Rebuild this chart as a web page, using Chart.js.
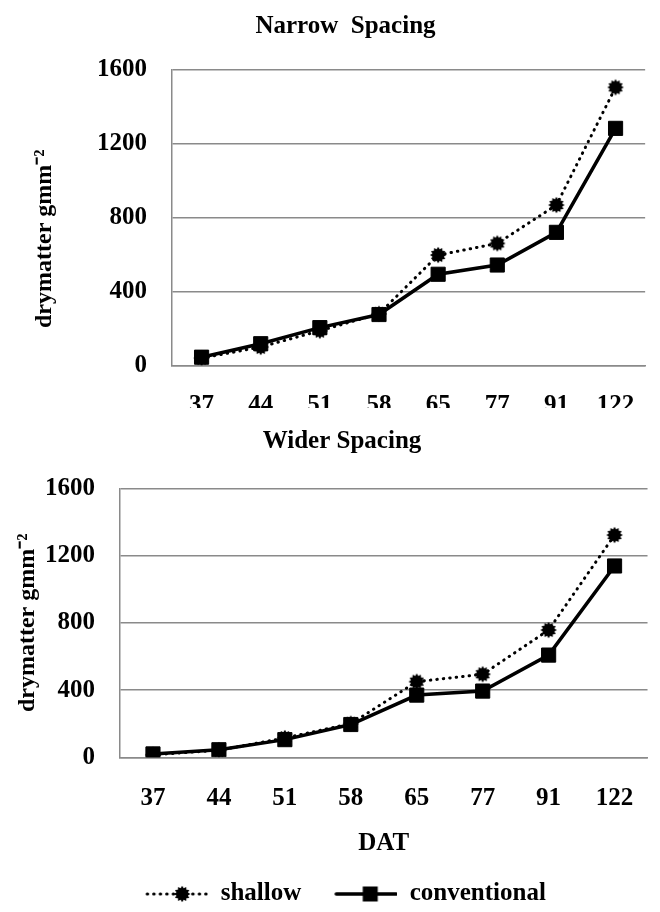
<!DOCTYPE html>
<html>
<head>
<meta charset="utf-8">
<script src="https://cdn.jsdelivr.net/npm/chart.js"></script>
<style>
  body { margin: 0; background: #fff; }
  #topWrap { width: 660px; height: 408px; overflow: hidden; }
  canvas { display: block; }
</style>
</head>
<body>
<div id="topWrap"><canvas id="narrow" width="660" height="430"></canvas></div>
<canvas id="wider" width="660" height="504"></canvas>
<script>
// days after transplanting
var dat = ['37', '44', '51', '58', '65', '77', '91', '122'];

// drymatter (g m-2), narrow spacing
var narrowShallow = [40, 100, 188, 280, 598, 661, 869, 1506];
var narrowConventional = [45, 118, 205, 276, 494, 544, 721, 1284];

// drymatter (g m-2), wider spacing
var widerShallow = [15, 42, 115, 200, 450, 494, 757, 1322];
var widerConventional = [20, 45, 105, 195, 370, 394, 608, 1138];

var yTicks = [0, 400, 800, 1200, 1600];

var FONT = "'Liberation Serif', 'Times New Roman', serif";
var GRID = '#8a8a8a';
var Y_TITLE = 'drymatter gmm\u207B\u00B2';

// bumpy black "star" marker like the spreadsheet one
function makeBlob() {
    var c = document.createElement('canvas');
    c.width = 18; c.height = 18;
    var g = c.getContext('2d');
    g.beginPath();
    for (var i = 0; i < 24; i++) {
        var a = i * Math.PI / 12;
        var r = (i % 2) ? 6 : 8.2;
        var x = 9 + r * Math.cos(a), y = 9 + r * Math.sin(a);
        if (i === 0) g.moveTo(x, y); else g.lineTo(x, y);
    }
    g.closePath();
    g.fillStyle = '#000';
    g.fill();
    return c;
}
var blob = makeBlob();

// legend icons: line + marker, drawn in the right 62px of a 70px box
function legendIcon(dotted) {
    var c = document.createElement('canvas');
    c.width = 70; c.height = 20;
    var g = c.getContext('2d');
    g.strokeStyle = '#000';
    g.lineCap = 'round';
    if (dotted) {
        g.lineWidth = 3;
        g.setLineDash([0.5, 6]);
    } else {
        g.lineWidth = 3.5;
    }
    g.beginPath();
    g.moveTo(9, 10);
    g.lineTo(69, 10);
    g.stroke();
    g.fillStyle = '#000';
    if (dotted) {
        g.drawImage(blob, 44 - 9, 1);
    } else {
        g.fillRect(43 - 7.5, 2.5, 15, 15);
    }
    return c;
}

function makeChart(id, shallow, conventional, o) {
    var ctx = document.getElementById(id).getContext('2d');
    return new Chart(ctx, {
        type: 'line',
        data: {
            labels: dat,
            datasets: [{
                label: 'shallow',
                data: shallow,
                borderColor: '#000',
                backgroundColor: '#000',
                borderWidth: 3,
                borderDash: [0.5, 6],
                borderCapStyle: 'round',
                pointStyle: blob,
                order: 1,
                tension: 0
            }, {
                label: 'conventional',
                data: conventional,
                borderColor: '#000',
                backgroundColor: '#000',
                borderWidth: 3.5,
                pointStyle: 'rect',
                pointRadius: 10,
                pointBorderWidth: 1,
                order: 0,
                tension: 0
            }]
        },
        options: {
            responsive: false,
            animation: false,
            devicePixelRatio: 1,
            layout: { padding: o.padding },
            plugins: {
                title: {
                    display: true,
                    text: o.title,
                    color: '#000',
                    font: { family: FONT, size: 25, weight: 'bold' },
                    padding: o.titlePad
                },
                legend: {
                    display: o.legend,
                    position: 'bottom',
                    labels: {
                        usePointStyle: true,
                        pointStyleWidth: 70,
                        padding: 26,
                        color: '#000',
                        font: { family: FONT, size: 25, weight: 'bold' },
                        generateLabels: function() {
                            return [
                                { text: 'shallow', pointStyle: legendIcon(true), datasetIndex: 0, lineWidth: 0, fontColor: '#000' },
                                { text: 'conventional', pointStyle: legendIcon(false), datasetIndex: 1, lineWidth: 0, fontColor: '#000' }
                            ];
                        }
                    }
                },
                tooltip: { enabled: false }
            },
            scales: {
                x: {
                    offset: true,
                    grid: { display: false, drawTicks: false },
                    border: { display: true, color: GRID, width: 1.5 },
                    ticks: {
                        color: '#000',
                        padding: o.xPad,
                        autoSkip: false,
                        maxRotation: 0,
                        font: { family: FONT, size: 25, weight: 'bold' }
                    },
                    title: {
                        display: !!o.xTitle,
                        text: o.xTitle || '',
                        color: '#000',
                        font: { family: FONT, size: 25, weight: 'bold' },
                        padding: { top: -10.8, bottom: -3 }
                    }
                },
                y: {
                    min: 0,
                    max: 1600,
                    afterBuildTicks: function(scale) {
                        scale.ticks = yTicks.map(function(v) { return { value: v }; });
                    },
                    afterFit: function(scale) { scale.width = o.yWidth; },
                    grid: { color: GRID, lineWidth: 1.5, drawTicks: false },
                    border: { display: true, color: GRID, width: 1.5 },
                    ticks: {
                        color: '#000',
                        padding: 25,
                        font: { family: FONT, size: 25, weight: 'bold' },
                        callback: function(v) { return String(v); }
                    },
                    title: {
                        display: true,
                        text: o.yTitle,
                        color: '#000',
                        font: { family: FONT, size: 24, weight: 'bold', lineHeight: 1 },
                        padding: 0
                    }
                }
            }
        }
    });
}

// the narrow panel's axis title sits a little lower in the original
makeChart('narrow', narrowShallow, narrowConventional, {
    title: 'Narrow  Spacing',
    titlePad: { top: 12, bottom: 28 },
    padding: { left: 33, right: 2, top: 0, bottom: -15.5 },
    xPad: 25,
    yWidth: 139,
    yTitle: Y_TITLE + '\u00A0\u00A0\u00A0\u00A0\u00A0\u00A0\u00A0',
    legend: false
});

makeChart('wider', widerShallow, widerConventional, {
    title: 'Wider Spacing',
    titlePad: { top: 18.6, bottom: 31.7 },
    padding: { left: 16, right: -8, top: 0, bottom: -4.5 },
    xPad: 26,
    xTitle: 'DAT',
    yWidth: 104,
    yTitle: Y_TITLE,
    legend: true
});
</script>
</body>
</html>
